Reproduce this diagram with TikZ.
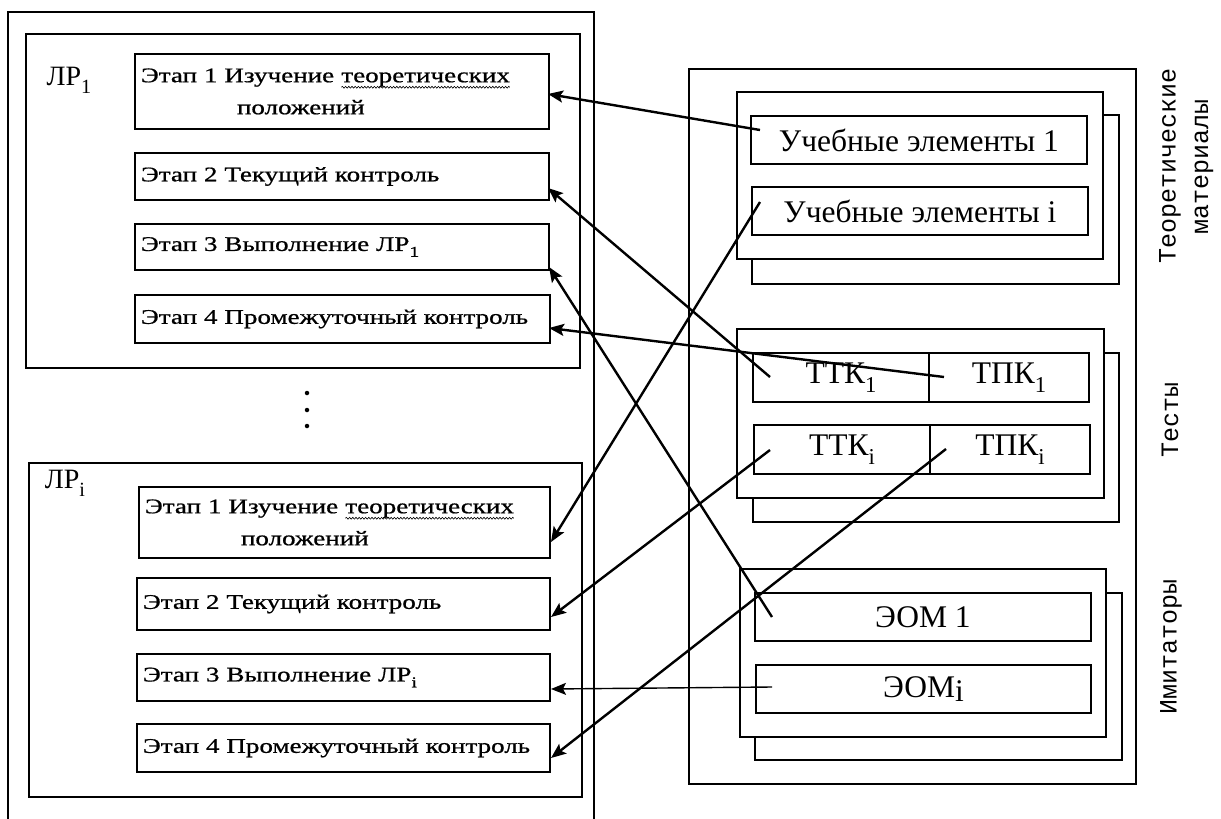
\documentclass[tikz,border=0pt]{standalone}
\usepackage{fontspec}
\setmainfont{Liberation Serif}
\newfontfamily\leftfont[FakeStretch=1.3,FakeBold=0.8]{Liberation Serif}
\newfontfamily\monof{Liberation Mono}
\usetikzlibrary{arrows.meta,decorations.pathmorphing}
\newcommand\wavyword[1]{\tikz[baseline=(W.base)]{\node[inner sep=0pt, outer sep=0pt, draw=none,
    minimum width=0pt, minimum height=0pt, anchor=base] (W) {#1};
  \draw[line width=0.6pt, decorate, decoration={snake, amplitude=0.9pt, segment length=3.2pt}]
    ([yshift=-5pt]W.base west) -- ([yshift=-5pt]W.base east);}}
\newcommand\lowsub[1]{\raisebox{-0.28em}{\scalebox{0.72}{#1}}}
\tikzset{
  frame/.style={draw, line width=1.5pt},
  lrbox/.style={draw, line width=1.9pt, anchor=north west, inner sep=0pt},
  stagebox/.style={draw, line width=1.9pt, anchor=north west, inner xsep=6pt, inner ysep=0pt,
    align=left, font=\leftfont\fontsize{20.8pt}{32pt}\selectfont},
  grpbox/.style={draw, line width=1.7pt, anchor=north west, inner sep=0pt, fill=white},
  rbox/.style={draw, line width=1.9pt, anchor=north west, inner sep=0pt, align=center,
    font=\fontsize{31.5pt}{34pt}\selectfont},
  lrlabel/.style={font=\fontsize{28pt}{30pt}\selectfont, inner sep=0pt},
  sidelabel/.style={rotate=90, font=\monof\fontsize{25pt}{30pt}\selectfont, inner sep=0pt},
  dot/.style={circle, fill, inner sep=0pt, minimum size=4.5pt},
  arr/.style={line width=2.4pt, -{Stealth[length=15pt,width=12pt,inset=3pt]}},
  thinarr/.style={line width=1.4pt, -{Stealth[length=15pt,width=12pt,inset=3pt]}}
}
\begin{document}
\begin{tikzpicture}[x=1pt,y=-1pt]
\useasboundingbox (0,0) rectangle (1221,819);
\fill[white] (0,0) rectangle (1221,819);

% left outer frame (open at the bottom, cut by the page)
\draw[frame] (8,822) -- (8,12) -- (594,12) -- (594,822);

% LR1 group
\node[lrbox, minimum width=554pt, minimum height=334pt] (lr1) at (25,33) {};
\node[lrlabel] (lr1lab) at (69,80) {ЛР\lowsub{1}};
\node[stagebox, text width=402pt, minimum height=75pt] (s11) at (134,53)
  {Этап 1 Изучение \wavyword{теоретических}\\\hspace*{96pt}положений};
\node[stagebox, text width=402pt, minimum height=47pt] (s12) at (134,152) {Этап 2 Текущий контроль};
\node[stagebox, text width=402pt, minimum height=46pt] (s13) at (134,223) {Этап 3 Выполнение ЛР\lowsub{1}};
\node[stagebox, text width=403pt, minimum height=48pt] (s14) at (134,294) {Этап 4 Промежуточный контроль};

% dots
\node[dot] (d1) at (307,393) {};
\node[dot] (d2) at (307,410) {};
\node[dot] (d3) at (307,426) {};

% LRi group
\node[lrbox, minimum width=553pt, minimum height=334pt] (lri) at (28,462) {};
\node[lrlabel] (lrilab) at (65,483) {ЛР\lowsub{i}};
\node[stagebox, text width=399pt, minimum height=71pt] (s21) at (138,486)
  {Этап 1 Изучение \wavyword{теоретических}\\\hspace*{96pt}положений};
\node[stagebox, text width=401pt, minimum height=52pt] (s22) at (136,577) {Этап 2 Текущий контроль};
\node[stagebox, text width=401pt, minimum height=47pt] (s23) at (136,653) {Этап 3 Выполнение ЛР\lowsub{i}};
\node[stagebox, text width=401pt, minimum height=48pt] (s24) at (136,723) {Этап 4 Промежуточный контроль};

% right frame
\node[lrbox, line width=1.6pt, minimum width=447pt, minimum height=715pt] (rf) at (688,68) {};

% theoretical materials
\node[grpbox, minimum width=367pt, minimum height=169pt] (g1b) at (751,114) {};
\node[grpbox, minimum width=366pt, minimum height=167pt] (g1f) at (736,91) {};
\node[rbox, minimum width=336pt, minimum height=48pt] (ue1) at (750,115) {Учебные элементы 1};
\node[rbox, minimum width=336pt, minimum height=48pt] (uei) at (751,186) {Учебные элементы i};

% tests
\node[grpbox, minimum width=366pt, minimum height=169pt] (g2b) at (752,352) {};
\node[grpbox, minimum width=367pt, minimum height=169pt] (g2f) at (736,328) {};
\node[rbox, minimum width=176pt, minimum height=49pt] (ttk1) at (752,352) {ТТК\lowsub{1}};
\node[rbox, minimum width=160pt, minimum height=49pt] (tpk1) at (928,352) {ТПК\lowsub{1}};
\node[rbox, minimum width=176pt, minimum height=49pt] (ttki) at (753,424) {ТТК\lowsub{i}};
\node[rbox, minimum width=160pt, minimum height=49pt] (tpki) at (929,424) {ТПК\lowsub{i}};

% imitators
\node[grpbox, minimum width=367pt, minimum height=167pt] (g3b) at (754,592) {};
\node[grpbox, minimum width=366pt, minimum height=168pt] (g3f) at (739,568) {};
\node[rbox, minimum width=336pt, minimum height=48pt] (eom1) at (754,592) {ЭОМ 1};
\node[rbox, minimum width=335pt, minimum height=48pt] (eomi) at (755,664) {ЭОМ\raisebox{-0.12em}{i}};

% side labels
\node[sidelabel] (lab1a) at (1170,166) {Теоретические};
\node[sidelabel] (lab1b) at (1204,167) {материалы};
\node[sidelabel] (lab2) at (1170,420) {Тесты};
\node[sidelabel] (lab3) at (1171,647) {Имитаторы};

% connector end points
\coordinate (a1s) at (760,130);  \coordinate (a1e) at (548,94);
\coordinate (a2s) at (770,377);  \coordinate (a2e) at (548,188);
\coordinate (a3s) at (760,202);  \coordinate (a3e) at (551,542);
\coordinate (a4s) at (772,617);  \coordinate (a4e) at (549,267);
\coordinate (a5s) at (944,377);  \coordinate (a5e) at (549,328);
\coordinate (a6s) at (770,450);  \coordinate (a6e) at (551,617);
\coordinate (a7s) at (772,687);  \coordinate (a7e) at (551,689);
\coordinate (a8s) at (946,449);  \coordinate (a8e) at (551,758);

\draw[arr] (a1s) -- (a1e);
\draw[arr] (a2s) -- (a2e);
\draw[arr] (a3s) -- (a3e);
\draw[arr] (a4s) -- (a4e);
\draw[arr] (a5s) -- (a5e);
\draw[arr] (a6s) -- (a6e);
\draw[thinarr] (a7s) -- (a7e);
\draw[arr] (a8s) -- (a8e);
\end{tikzpicture}
\end{document}
